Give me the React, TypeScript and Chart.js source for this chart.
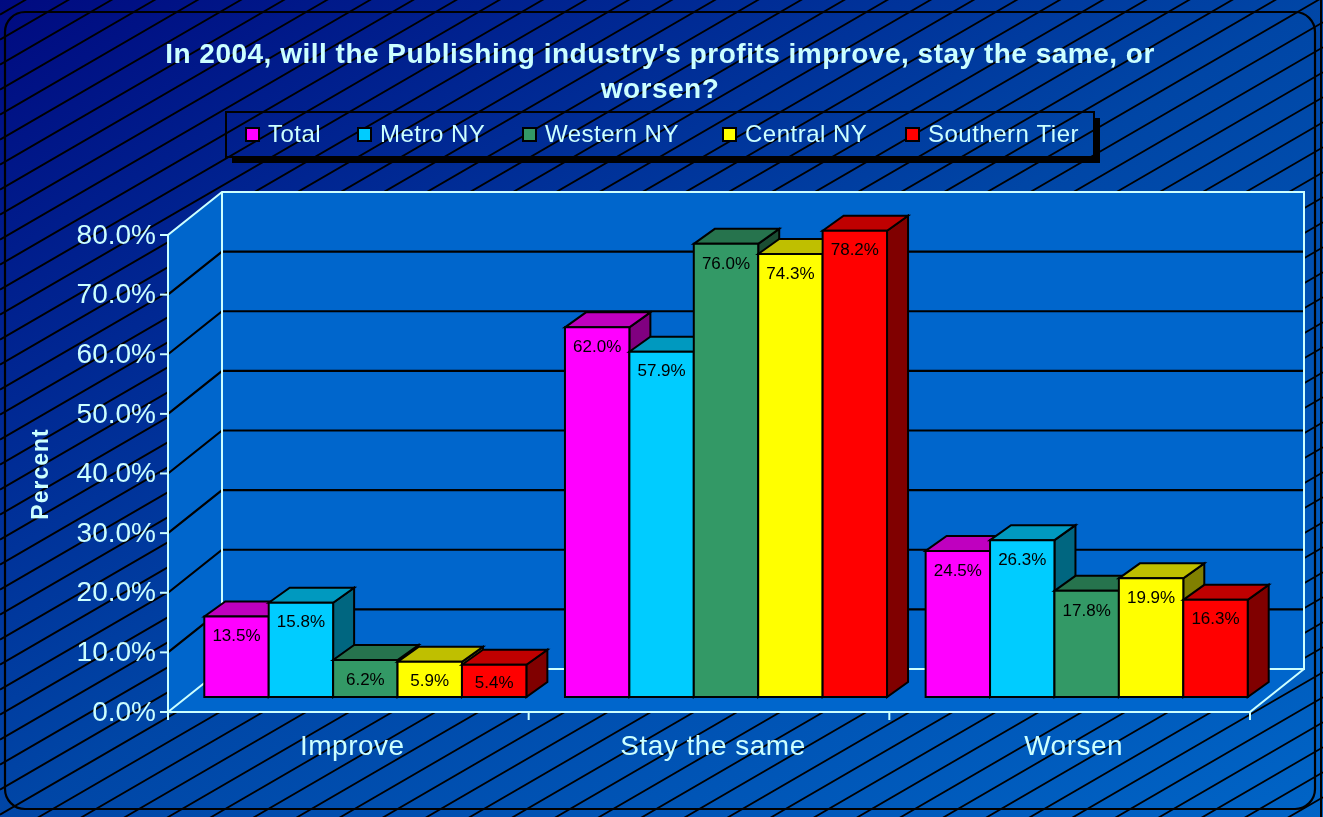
import React, { useEffect, useRef } from 'react';
import { Chart, registerables } from 'chart.js';

Chart.register(...registerables);

// ---------- data ----------
const categories = ['Improve', 'Stay the same', 'Worsen'];
const seriesNames = ['Total', 'Metro NY', 'Western NY', 'Central NY', 'Southern Tier'];
const totalValues = [13.5, 62.0, 24.5];
const metroValues = [15.8, 57.9, 26.3];
const westernValues = [6.2, 76.0, 17.8];
const centralValues = [5.9, 74.3, 19.9];
const southernValues = [5.4, 78.2, 16.3];
const seriesValues = [totalValues, metroValues, westernValues, centralValues, southernValues];
const seriesColors = ['#FF00FF', '#00CCFF', '#339966', '#FFFF00', '#FF0000'];
const yTicks = [0, 10, 20, 30, 40, 50, 60, 70, 80];
const titleLines = [
  "In 2004, will the Publishing industry's profits improve, stay the same, or",
  'worsen?',
];
const yAxisTitle = 'Percent';

// ---------- style / geometry ----------
const W = 1323;
const H = 817;
const FONT = '"Liberation Sans", Arial, sans-serif';
const TEXT = '#CCFFFF';
const WALL = '#0066CC';
const DX = 54; // depth of the floor/walls
const DY = -43;
const BOX = 17; // bar front plane offset
const BOY = -15;
const BDX = 21; // bar depth
const BDY = -15;
const legendX = [245, 357, 522, 722, 905];

function shade(hex: string, f: number) {
  const n = parseInt(hex.slice(1), 16);
  const r = Math.round(((n >> 16) & 255) * f);
  const g = Math.round(((n >> 8) & 255) * f);
  const b = Math.round((n & 255) * f);
  return `rgb(${r},${g},${b})`;
}

function poly(ctx: CanvasRenderingContext2D, pts: number[][], fill: string | null, stroke: string | null, lw = 2) {
  ctx.beginPath();
  ctx.moveTo(pts[0][0], pts[0][1]);
  for (let i = 1; i < pts.length; i++) ctx.lineTo(pts[i][0], pts[i][1]);
  ctx.closePath();
  if (fill) {
    ctx.fillStyle = fill;
    ctx.fill();
  }
  if (stroke) {
    ctx.strokeStyle = stroke;
    ctx.lineWidth = lw;
    ctx.stroke();
  }
}

function line(ctx: CanvasRenderingContext2D, pts: number[][], stroke: string, lw = 2) {
  ctx.beginPath();
  ctx.moveTo(pts[0][0], pts[0][1]);
  for (let i = 1; i < pts.length; i++) ctx.lineTo(pts[i][0], pts[i][1]);
  ctx.strokeStyle = stroke;
  ctx.lineWidth = lw;
  ctx.stroke();
}

const decorPlugin = {
  id: 'decor3d',
  beforeDraw(chart: any) {
    const ctx: CanvasRenderingContext2D = chart.ctx;
    const ca = chart.chartArea;
    const ys = chart.scales.y;
    const xs = chart.scales.x;
    ctx.save();

    // background gradient
    const g = ctx.createLinearGradient(0, 0, 730, 1183);
    g.addColorStop(0, '#000A80');
    g.addColorStop(0.5, '#0046A6');
    g.addColorStop(1, '#0064C6');
    ctx.fillStyle = g;
    ctx.fillRect(0, 0, W, H);

    // hatch
    ctx.beginPath();
    const slope = 0.58;
    for (let c = 239.6 - 25 * 60; c < H + slope * W + 25; c += 25) {
      ctx.moveTo(0, c);
      ctx.lineTo(W, c - slope * W);
    }
    ctx.strokeStyle = '#000000';
    ctx.lineWidth = 1.8;
    ctx.stroke();

    // frame
    ctx.beginPath();
    (ctx as any).roundRect(5, 12, 1310, 797, 20);
    ctx.strokeStyle = '#000';
    ctx.lineWidth = 2.2;
    ctx.stroke();
    line(ctx, [[1321, 0], [1321, H]], '#000', 2);

    // title
    ctx.fillStyle = TEXT;
    ctx.font = `bold 28px ${FONT}`;
    (ctx as any).letterSpacing = '0.5px';
    ctx.textAlign = 'center';
    ctx.textBaseline = 'alphabetic';
    ctx.fillText(titleLines[0], 660, 63);
    ctx.fillText(titleLines[1], 660, 98);

    // legend
    ctx.fillStyle = '#000';
    ctx.fillRect(232, 157, 868, 6);
    ctx.fillRect(1094, 118, 6, 45);
    ctx.strokeStyle = '#000';
    ctx.lineWidth = 2;
    ctx.strokeRect(226, 112, 868, 45);
    ctx.font = `24px ${FONT}`;
    (ctx as any).letterSpacing = '0.5px';
    ctx.textAlign = 'left';
    ctx.textBaseline = 'middle';
    seriesNames.forEach((name, i) => {
      const x = legendX[i];
      ctx.fillStyle = seriesColors[i];
      ctx.fillRect(x + 1, 128, 13, 13);
      ctx.strokeStyle = '#000';
      ctx.lineWidth = 2;
      ctx.strokeRect(x + 1, 128, 13, 13);
      ctx.fillStyle = TEXT;
      ctx.fillText(name, x + 23, 135);
    });

    // walls
    const L = ca.left;
    const R = ca.right;
    const y0 = ys.getPixelForValue(0);
    const yTop = ys.getPixelForValue(yTicks[yTicks.length - 1]);
    poly(ctx, [[L, yTop], [L + DX, yTop + DY], [L + DX, y0 + DY], [L, y0]], WALL, null);
    poly(ctx, [[L + DX, yTop + DY], [R + DX, yTop + DY], [R + DX, y0 + DY], [L + DX, y0 + DY]], WALL, null);
    poly(ctx, [[L, y0], [L + DX, y0 + DY], [R + DX, y0 + DY], [R, y0]], WALL, null);

    // gridlines
    yTicks.forEach((t) => {
      if (t === 0 || t === yTicks[yTicks.length - 1]) return;
      const y = ys.getPixelForValue(t);
      line(ctx, [[L, y], [L + DX, y + DY], [R + DX, y + DY]], '#000', 2.2);
    });

    // light edges
    line(ctx, [[L, y0], [L, yTop], [L + DX, yTop + DY], [R + DX, yTop + DY], [R + DX, y0 + DY], [L + DX, y0 + DY], [L, y0]], TEXT, 2);
    line(ctx, [[L + DX, yTop + DY], [L + DX, y0 + DY]], TEXT, 2);
    line(ctx, [[L, y0], [R, y0], [R + DX, y0 + DY]], TEXT, 2);

    // y ticks + labels
    ctx.font = `28px ${FONT}`;
    (ctx as any).letterSpacing = '0px';
    ctx.textAlign = 'right';
    ctx.textBaseline = 'middle';
    yTicks.forEach((t) => {
      const y = ys.getPixelForValue(t);
      line(ctx, [[L - 8, y], [L, y]], TEXT, 2);
      ctx.fillStyle = TEXT;
      ctx.fillText(t.toFixed(1) + '%', L - 12, y + 1);
    });

    // x ticks + labels
    const step = (R - L) / categories.length;
    for (let i = 0; i <= categories.length; i++) {
      const x = L + step * i;
      line(ctx, [[x, y0], [x, y0 + 8]], TEXT, 2);
    }
    ctx.font = `28px ${FONT}`;
    (ctx as any).letterSpacing = '0.5px';
    ctx.textAlign = 'center';
    ctx.textBaseline = 'alphabetic';
    categories.forEach((c, i) => {
      ctx.fillStyle = TEXT;
      ctx.fillText(c, xs.getPixelForValue(i) + 4, 755);
    });

    // y axis title
    ctx.save();
    ctx.translate(42, 474);
    ctx.rotate(-Math.PI / 2);
    ctx.font = `bold 23px ${FONT}`;
    (ctx as any).letterSpacing = '1px';
    ctx.textAlign = 'center';
    ctx.textBaseline = 'middle';
    ctx.fillStyle = TEXT;
    ctx.fillText(yAxisTitle, 0, 0);
    ctx.restore();

    (ctx as any).letterSpacing = '0px';
    ctx.restore();
  },
  beforeDatasetsDraw(chart: any) {
    const ctx: CanvasRenderingContext2D = chart.ctx;
    ctx.save();
    ctx.lineJoin = 'miter';
    const labels: { x: number; y: number; text: string }[] = [];
    for (let j = 0; j < categories.length; j++) {
      for (let i = 0; i < seriesNames.length; i++) {
        const el = chart.getDatasetMeta(i).data[j];
        const p = el.getProps(['x', 'y', 'base', 'width'], true);
        const left = p.x - p.width / 2 + BOX;
        const right = p.x + p.width / 2 + BOX;
        const top = p.y + BOY;
        const bottom = p.base + BOY;
        const col = seriesColors[i];
        poly(ctx, [[right, top], [right + BDX, top + BDY], [right + BDX, bottom + BDY], [right, bottom]], shade(col, 0.5), '#000', 2);
        poly(ctx, [[left, top], [left + BDX, top + BDY], [right + BDX, top + BDY], [right, top]], shade(col, 0.75), '#000', 2);
        poly(ctx, [[left, top], [right, top], [right, bottom], [left, bottom]], col, '#000', 2);
        const ly = Math.min(top + 20, (top + bottom) / 2 + 2);
        labels.push({ x: (left + right) / 2, y: ly, text: seriesValues[i][j].toFixed(1) + '%' });
      }
    }
    ctx.font = `17px ${FONT}`;
    ctx.fillStyle = '#000';
    ctx.textAlign = 'center';
    ctx.textBaseline = 'middle';
    labels.forEach((l) => ctx.fillText(l.text, l.x, l.y));
    ctx.restore();
    return false;
  },
};

export default function App() {
  const ref = useRef<HTMLCanvasElement>(null);
  useEffect(() => {
    const chart = new Chart(ref.current as HTMLCanvasElement, {
      type: 'bar',
      data: {
        labels: categories,
        datasets: seriesNames.map((name, i) => ({
          label: name,
          data: seriesValues[i],
          backgroundColor: seriesColors[i],
          borderColor: '#000000',
          borderWidth: 2,
          categoryPercentage: 0.893,
          barPercentage: 1,
        })),
      },
      options: {
        responsive: false,
        animation: false,
        devicePixelRatio: 1,
        layout: { padding: { left: 168, top: 235, right: 73, bottom: 105 } },
        scales: {
          x: { display: false, offset: true },
          y: { display: false, min: 0, max: 80 },
        },
        plugins: {
          legend: { display: false },
          title: { display: false },
          tooltip: { enabled: false },
        },
      },
      plugins: [decorPlugin],
    } as any);
    return () => chart.destroy();
  }, []);
  return (
    <div style={{ position: 'fixed', left: 0, top: 0, width: W, height: H }}>
      <canvas ref={ref} width={W} height={H} style={{ display: 'block' }} />
    </div>
  );
}
